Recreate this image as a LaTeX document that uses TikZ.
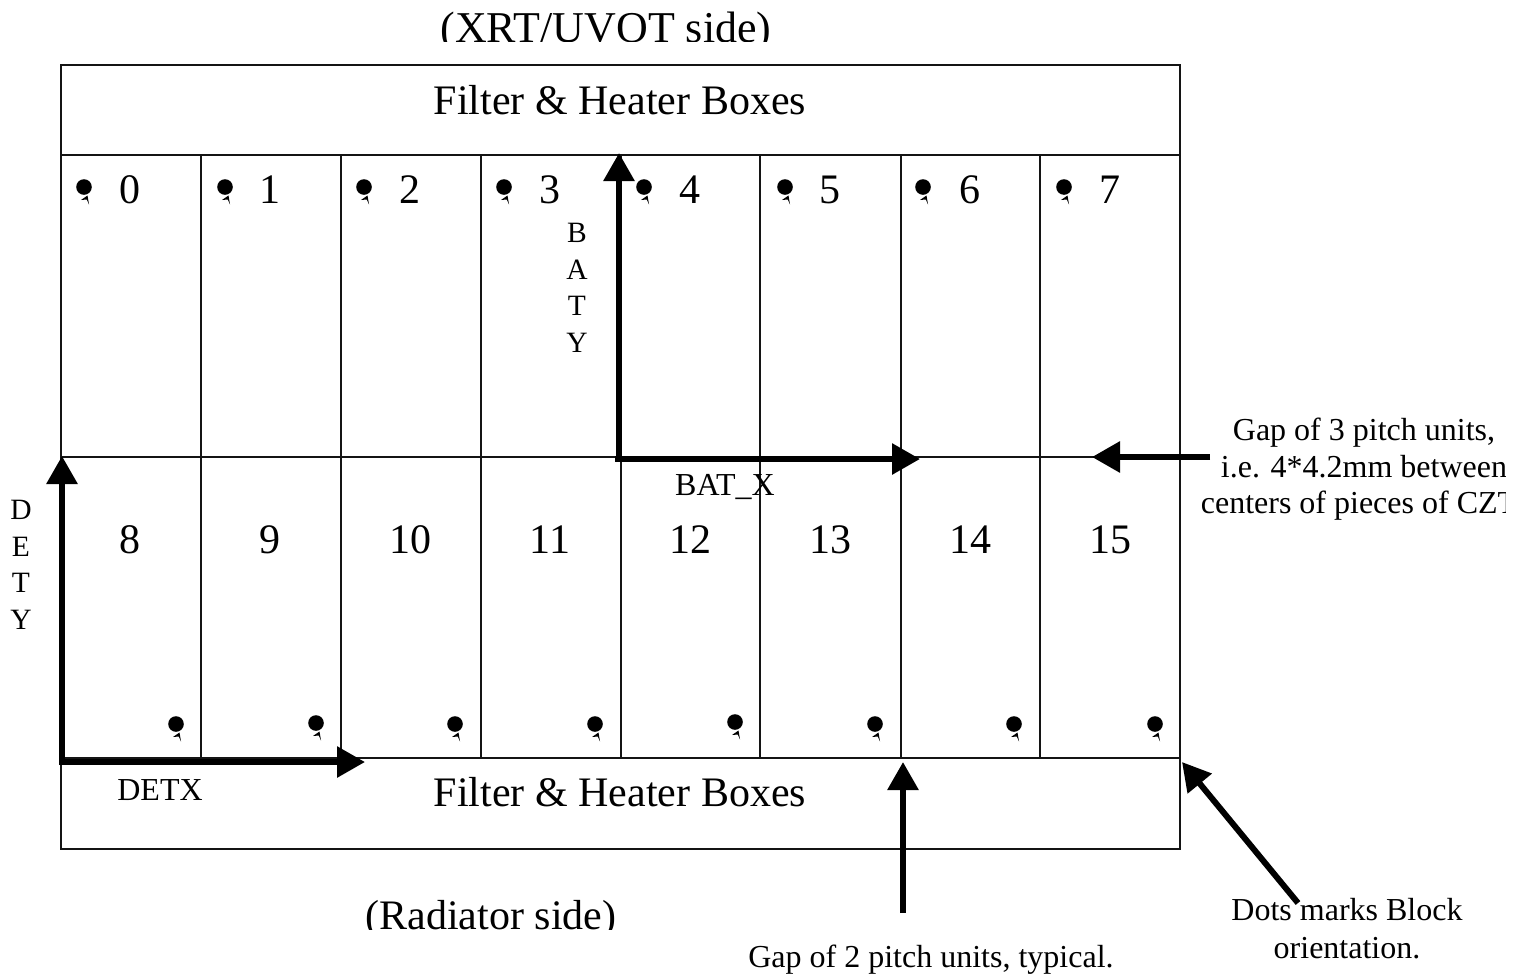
\documentclass[tikz,border=0pt]{standalone}
\usepackage{fontspec}
\setmainfont{Liberation Serif}
\usetikzlibrary{arrows.meta}
\tikzset{
  grid line/.style={line width=2.6pt,black!92},
  big arrow/.style={line width=6pt,-{Triangle[length=28pt,width=30pt]}},
  big label/.style={font=\fontsize{42}{46}\selectfont,inner sep=0pt,anchor=base},
  small label/.style={font=\fontsize{32}{36.7}\selectfont,inner sep=0pt,align=center,anchor=base},
  axis letters/.style={font=\fontsize{29.5}{36.7}\selectfont,inner sep=0pt,align=center},
  pin dot/.pic={
    \fill (0,0) circle (7.8pt);
    \fill (-3,13) -- (3.5,8.5) -- (5,17.5) -- (2.8,12.5) -- cycle;
  }
}
\begin{document}
\begin{tikzpicture}[x=1pt,y=-1pt]
\useasboundingbox (0,0) rectangle (1522,975);
\draw[grid line] (61,65) rectangle (1180,849);
\draw[grid line] (61,155) -- (1180,155);
\draw[grid line] (61,457) -- (1180,457);
\draw[grid line] (61,758) -- (1180,758);
\foreach \x in {201,341,481,621,760,901,1040}{
  \draw[grid line] (\x,155) -- (\x,758);
}
\node[big label] (top) at (620,114) {Filter \& Heater Boxes};
\node[big label] (bottom) at (620,806) {Filter \& Heater Boxes};
\foreach \n/\x in {0/130,1/270,2/410,3/550,4/690,5/830,6/970,7/1110}{
  \node[big label] (n\n) at (\x,203) {\n};
}
\foreach \n/\x in {8/130,9/270,10/410,11/550,12/690,13/830,14/970,15/1110}{
  \node[big label] (n\n) at (\x,553) {\n};
}
\foreach \x in {84,225,364,504,644,785,923,1064}{
  \pic at (\x,187) {pin dot};
}
\foreach \x/\y in {176/724,316/723,455/724,595/724,735/722,875/724,1014/724,1155/724}{
  \pic at (\x,\y) {pin dot};
}
\begin{scope}
\clip (380,0) rectangle (820,41);
\node[big label,font=\fontsize{44}{46}\selectfont] (xrt) at (606,42) {(XRT/UVOT side)};
\end{scope}
\begin{scope}
\clip (340,880) rectangle (660,929);
\node[big label] (rad) at (491,929) {(Radiator side)};
\end{scope}
\begin{scope}
\clip (1190,400) rectangle (1505,530);
\node[small label] (gap3a) at (1364,440) {Gap of 3 pitch units,};
\node[small label] (gap3b) at (1364,477) {i.e. 4*4.2mm between};
\node[small label] (gap3c) at (1359,513) {centers of pieces of CZT};
\end{scope}
\node[small label] (gap2) at (931,967) {Gap of 2 pitch units, typical.};
\node[small label] (dots) at (1347,920) {Dots marks Block};
\node[small label] (orient) at (1347,958) {orientation.};
\node[small label] (batx) at (725,495) {BAT\_X};
\node[small label] (detx) at (160,800) {DETX};
\node[axis letters,anchor=north] (baty) at (577,223) {B\\A\\T\\Y};
\node[axis letters,anchor=north] (dety) at (21,500) {D\\E\\T\\Y};
\coordinate (a1) at (619,462); \coordinate (a2) at (619,153);
\coordinate (b1) at (615,459); \coordinate (b2) at (920,459);
\coordinate (c1) at (62,765); \coordinate (c2) at (62,456);
\coordinate (d1) at (59,762); \coordinate (d2) at (365,762);
\coordinate (e1) at (1210,457); \coordinate (e2) at (1092,457);
\coordinate (f1) at (903,913); \coordinate (f2) at (903,762);
\coordinate (g1) at (1298,903); \coordinate (g2) at (1182,762);
\draw[big arrow] (a1) -- (a2);
\draw[big arrow] (b1) -- (b2);
\draw[big arrow] (c1) -- (c2);
\draw[big arrow] (d1) -- (d2);
\draw[big arrow] (e1) -- (e2);
\draw[big arrow] (f1) -- (f2);
\draw[big arrow] (g1) -- (g2);
\end{tikzpicture}
\end{document}
